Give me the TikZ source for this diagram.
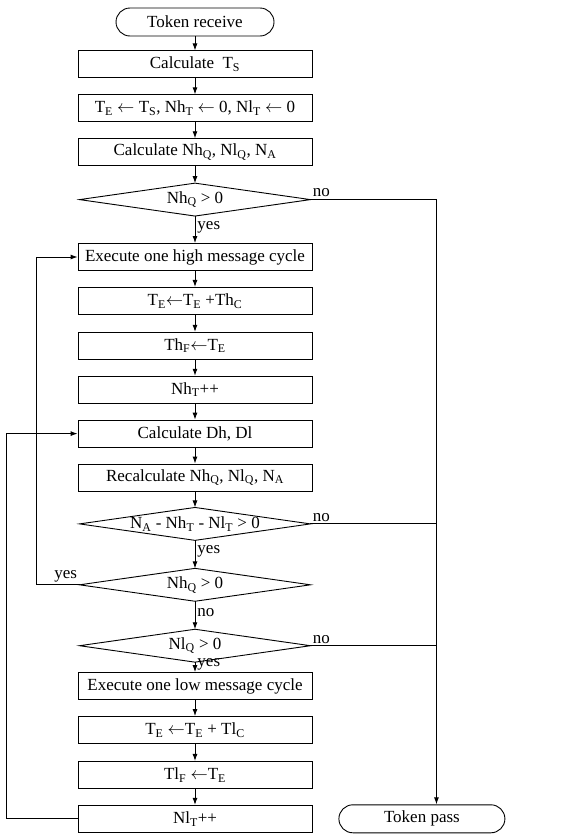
\documentclass[tikz,border=0pt]{standalone}
\usepackage{fontspec}
\setmainfont{Liberation Serif}
\usetikzlibrary{arrows.meta,positioning,shapes.misc}
\newcommand{\sbs}[1]{\textsubscript{#1}}
\tikzset{
  term/.style={draw, rounded rectangle, minimum width=162pt, minimum height=28pt, inner sep=2pt},
  procbox/.style={draw, rectangle, minimum width=234pt, minimum height=27pt, inner sep=2pt},
  decide/.style={rectangle, minimum width=230pt, minimum height=32pt, inner sep=0pt},
  tag/.style={inner sep=2pt},
}

\begin{document}
\begin{tikzpicture}[x=1pt, y=1pt, node distance=16pt,
    font=\fontsize{17}{20}\selectfont, line width=0.9pt,
    >={Latex[length=7pt,width=5pt]}]
  \useasboundingbox (0,0) rectangle (560,-838);

  \node[term] (recv) at (195,-22) {Token receive};
  \node[procbox, below=14pt of recv] (calcS) {Calculate\ \ T\sbs{S}};
  \node[procbox, below=of calcS] (init)
    {T\sbs{E} $\leftarrow$ T\sbs{S}, Nh\sbs{T} $\leftarrow$ 0, Nl\sbs{T} $\leftarrow$ 0};
  \node[procbox, below=of init] (calcQ) {Calculate Nh\sbs{Q}, Nl\sbs{Q}, N\sbs{A}};
  \node[decide, below=17pt of calcQ] (chkH) {Nh\sbs{Q} > 0};

  \node[procbox, below=27pt of chkH] (exeH) {Execute one high message cycle};
  \node[procbox, below=of exeH] (addH) {T\sbs{E}$\leftarrow$T\sbs{E} +Th\sbs{C}};
  \node[procbox, below=17pt of addH] (setHF) {Th\sbs{F}$\leftarrow$T\sbs{E}};
  \node[procbox, below=of setHF] (incH) {Nh\sbs{T}++};
  \node[procbox, below=of incH] (calcD) {Calculate Dh, Dl};
  \node[procbox, below=of calcD] (recalc) {Recalculate Nh\sbs{Q}, Nl\sbs{Q}, N\sbs{A}};
  \node[decide, below=of recalc] (chkA) {N\sbs{A} - Nh\sbs{T} - Nl\sbs{T} > 0};
  \node[decide, below=28pt of chkA] (chkH2) {Nh\sbs{Q} > 0};
  \node[decide, below=28pt of chkH2] (chkL) {Nl\sbs{Q} > 0};

  \node[procbox, below=10pt of chkL] (exeL) {Execute one low message cycle};
  \node[procbox, below=of exeL] (addL) {T\sbs{E} $\leftarrow$T\sbs{E} + Tl\sbs{C}};
  \node[procbox, below=17pt of addL] (setLF) {Tl\sbs{F} $\leftarrow$T\sbs{E}};
  \node[procbox, below=of setLF] (incL) {Nl\sbs{T}++};
  \node[term, minimum width=170pt, right=26pt of incL] (pass) {Token pass};

  % decision outlines
  \foreach \d in {chkH,chkA,chkH2,chkL}
    \draw (\d.west) -- (\d.north) -- (\d.east) -- (\d.south) -- cycle;

  % main flow
  \foreach \a/\b in {recv/calcS, calcS/init, init/calcQ, calcQ/chkH,
      exeH/addH, addH/setHF, setHF/incH, incH/calcD, calcD/recalc,
      recalc/chkA, exeL/addL, addL/setLF, setLF/incL}
    \draw[->] (\a.south) -- (\b.north);
  \draw[->] (chkH.south) -- node[right, tag, pos=0.4] {yes} (exeH.north);
  \draw[->] (chkA.south) -- node[right, tag, pos=0.4] {yes} (chkH2.north);
  \draw[->] (chkH2.south) -- node[right, tag, pos=0.4] {no} (chkL.north);
  \draw[->] (chkL.south) -- (exeL.north);
  \node[tag, anchor=west] at ([yshift=-2pt]chkL.south) {yes};

  % exits to token pass
  \coordinate (rail) at ([xshift=126pt]chkH.east);
  \node[tag, above right] at (chkH.east) {no};
  \node[tag, above right] at (chkA.east) {no};
  \node[tag, above right] at (chkL.east) {no};
  \draw[->] (chkH.east) -- (rail) -- (rail |- pass.north);
  \draw (chkA.east) -- (chkA.east -| rail);
  \draw (chkL.east) -- (chkL.east -| rail);

  % loops back
  \node[tag, above left] at (chkH2.west) {yes};
  \draw[->] (chkH2.west) -- ++(-43,0) |- (exeH.west);
  \draw[->] (incL.west) -- ++(-71,0) |- (calcD.west);
\end{tikzpicture}
\end{document}
